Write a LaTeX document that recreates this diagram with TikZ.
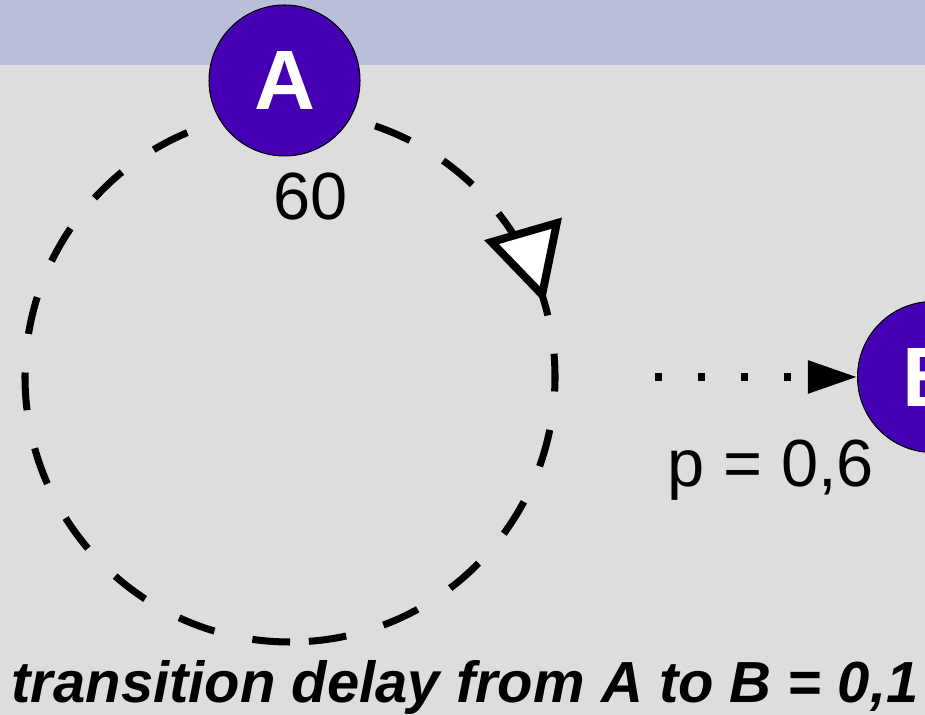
\documentclass[tikz,border=0pt]{standalone}
\usepackage{fontspec}
\setmainfont{Liberation Sans}
\usetikzlibrary{arrows.meta,positioning,decorations.markings}
\definecolor{SlideBg}{HTML}{DDDDDD}
\definecolor{TitleBand}{HTML}{B9BED9}
\definecolor{StatePurple}{HTML}{4400B2}

\begin{document}
\begin{tikzpicture}[x=0.02cm,y=0.02cm,
    state/.style={circle,draw=black,line width=0.6pt,fill=StatePurple,
      minimum size=3.02cm,inner sep=0pt,text=white,
      font=\bfseries\fontsize{48}{48}\selectfont},
    lbl/.style={anchor=base,font=\fontsize{38}{38}\selectfont},
    delayloop/.style={line width=4pt,dash pattern=on 21.5pt off 22.1pt,
      postaction={decorate},
      decoration={markings,mark=at position 0.705 with {\pgfsetdash{}{0pt}%
        \arrow{Triangle[length=44pt,width=45pt,line width=4.5pt,fill=white]}}}},
    jump/.style={line width=4pt,dash pattern=on 4pt off 20.4pt,
      -{Triangle[length=28pt,width=18pt]}}
  ]
  \clip (0,0) rectangle (925,715);
  \fill[SlideBg] (0,0) rectangle (925,715);
  \fill[TitleBand] (0,650) rectangle (925,715);

  % self loop of A
  \coordinate (loopc) at (290,338);
  \draw[delayloop] (loopc) ++(-90:265) arc[start angle=-90,end angle=-450,radius=265];

  \node[state] (A) at (284.5,634.5) {A};
  \node[state] (B) at (933,338) {B};
  \node[lbl] (delayA) at (311,495) {60};

  \coordinate (jumpstart) at (655,338);
  \draw[jump] (jumpstart) -- (B);
  \node[lbl] (prob) at (771,228) {p = 0,6};

  \node[anchor=base,font=\bfseries\itshape\fontsize{33}{33}\selectfont] (caption)
    at (465,12) {transition delay from A to B = 0,1};
\end{tikzpicture}
\end{document}
